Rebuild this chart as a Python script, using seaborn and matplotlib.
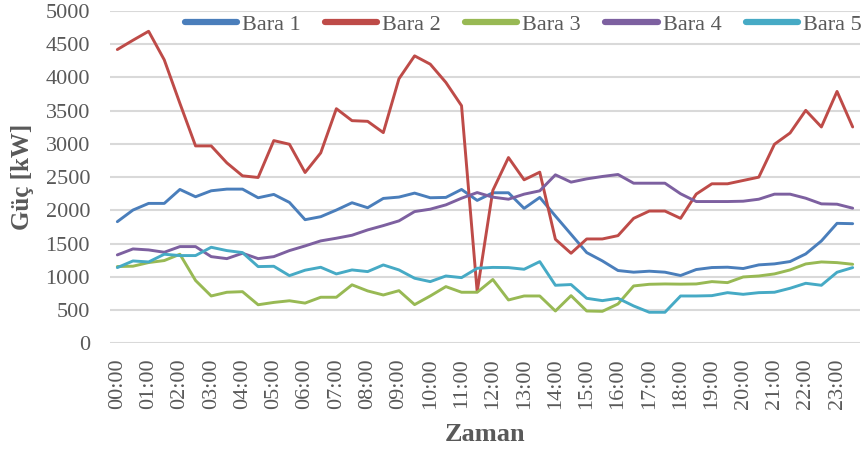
import matplotlib
matplotlib.use("Agg")
import matplotlib.pyplot as plt
import seaborn as sns
import pandas as pd

# ---- data (half-hourly, 00:00 .. 23:30) ----
times = [f"{h:02d}:{m:02d}" for h in range(24) for m in (0, 30)]
hour_labels = [f"{h:02d}:00" for h in range(24)]

bara1 = [1830, 2005, 2105, 2105, 2315, 2205, 2295, 2320, 2320, 2190, 2240, 2120,
         1860, 1905, 2005, 2115, 2040, 2180, 2200, 2260, 2190, 2195, 2315, 2150,
         2265, 2265, 2030, 2195, 1915, 1640, 1365, 1240, 1095, 1070, 1085, 1070,
         1020, 1110, 1140, 1145, 1125, 1180, 1195, 1230, 1345, 1540, 1805, 1800]
bara2 = [4420, 4560, 4695, 4265, 3610, 2970, 2970, 2715, 2520, 2495, 3050, 2995,
         2570, 2865, 3530, 3350, 3340, 3170, 3980, 4325, 4200, 3925, 3575, 775,
         2300, 2795, 2460, 2575, 1565, 1355, 1570, 1570, 1620, 1880, 1990, 1990,
         1880, 2245, 2400, 2400, 2450, 2500, 2995, 3165, 3505, 3255, 3790, 3255]
bara3 = [1155, 1160, 1215, 1245, 1340, 945, 712, 768, 777, 580, 615, 640,
         605, 693, 693, 880, 788, 727, 792, 582, 712, 853, 768, 768,
         960, 652, 712, 712, 486, 717, 486, 481, 592, 863, 888, 893,
         890, 893, 928, 913, 998, 1013, 1044, 1104, 1194, 1224, 1214, 1189]
bara4 = [1330, 1420, 1405, 1370, 1455, 1455, 1304, 1274, 1355, 1274, 1304, 1395,
         1465, 1541, 1581, 1626, 1706, 1771, 1842, 1982, 2018, 2083, 2183, 2268,
         2199, 2168, 2244, 2294, 2535, 2425, 2474, 2510, 2540, 2409, 2409, 2409,
         2250, 2133, 2133, 2133, 2138, 2168, 2244, 2244, 2183, 2098, 2093, 2033]
bara5 = [1139, 1239, 1224, 1340, 1320, 1320, 1445, 1395, 1365, 1154, 1159, 1018,
         1100, 1144, 1044, 1104, 1079, 1179, 1104, 979, 928, 1013, 988, 1129,
         1142, 1139, 1114, 1229, 873, 884, 677, 642, 677, 562, 467, 467,
         712, 712, 717, 762, 737, 762, 768, 828, 903, 873, 1069, 1139]

series_names = ["Bara 1", "Bara 2", "Bara 3", "Bara 4", "Bara 5"]
series_values = [bara1, bara2, bara3, bara4, bara5]
colors = ["#4A7EBB", "#BE4B48", "#98B954", "#7D60A0", "#46AAC5"]

df = pd.concat(
    [pd.DataFrame({"idx": range(len(times)), "Zaman": times, "Güç": vals, "Bara": name})
     for name, vals in zip(series_names, series_values)],
    ignore_index=True,
)

# ---- styling ----
sns.set_theme(style="white")
plt.rcParams["font.family"] = ["Liberation Serif", "DejaVu Serif"]
text_color = "#595959"

fig = plt.figure(figsize=(8.67, 4.5), dpi=100)
ax = fig.add_axes([109.5 / 867, 1 - 343.3 / 450, 751 / 867, 332.3 / 450])

sns.lineplot(data=df, x="idx", y="Güç", hue="Bara", palette=colors,
             linewidth=2.1, ax=ax, legend=True)

ax.set_xlim(-0.5, len(times) - 0.5)
ax.set_ylim(0, 5000)
ax.set_yticks(range(0, 5001, 500))
ax.set_xticks(range(0, len(times), 2))
ax.set_xticklabels(hour_labels, rotation=90)
ax.tick_params(axis="both", length=0, labelsize=16, labelcolor=text_color)
ax.tick_params(axis="x", pad=11)
ax.tick_params(axis="y", pad=14)

ax.grid(axis="y", color="#D9D9D9", linewidth=1.5)
ax.grid(axis="x", visible=False)
for s in ax.spines.values():
    s.set_visible(False)

ax.set_xlabel("Zaman", fontsize=19, fontweight="bold", color=text_color, labelpad=10)
ax.set_ylabel("Güç [kW]", fontsize=18, fontweight="bold", color=text_color, labelpad=8)

leg = ax.legend(loc="center left", bbox_to_anchor=(0.1, 0.958), ncol=5,
                frameon=False, fontsize=16, handlelength=2.35, handletextpad=0.22,
                columnspacing=1.1, borderpad=0, borderaxespad=0)
for t in leg.get_texts():
    t.set_color(text_color)
for h in leg.legend_handles:
    h.set_linewidth(4.5)
    h.set_solid_capstyle("round")

fig.savefig("out.png", dpi=100)
